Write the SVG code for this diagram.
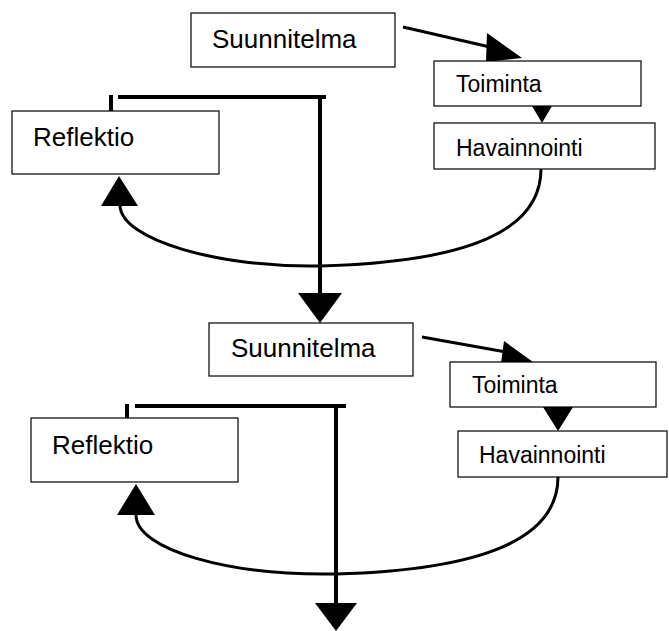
<svg xmlns="http://www.w3.org/2000/svg" width="669" height="631" viewBox="0 0 669 631">
<style>
.box{fill:#fff;stroke:#000;stroke-width:1.2}
.big{font-family:"Liberation Sans",Arial,sans-serif;font-size:26px;fill:#000}
.small{font-family:"Liberation Sans",Arial,sans-serif;font-size:23px;fill:#000}
.thick{fill:none;stroke:#000;stroke-width:4}
.curve{fill:none;stroke:#000;stroke-width:3}
.head{fill:#000;stroke:none}
</style>
<rect width="669" height="631" fill="#fff"/>
<g id="connectors">
  <path class="curve" d="M403,27 L490,47"/>
  <polygon class="head" points="487,33 522,58 486,62"/>
  <polygon class="head" points="532,106 552,106 542,123"/>
  <path class="curve" d="M541,169 C541,230 470,262 320,266 C220,268 120,240 120,205"/>
  <polygon class="head" points="101,206 138,206 119,176"/>
  <path class="thick" d="M111,95 L111,111"/>
  <path class="thick" d="M118,97 L326,97"/>
  <path class="thick" d="M320,97 L320,296"/>
  <polygon class="head" points="298,293 342,293 320,323"/>
  <path class="curve" d="M422,337 L506,352"/>
  <polygon class="head" points="504,341 533,362 501,363"/>
  <polygon class="head" points="543,407 573,407 558,431"/>
  <path class="curve" d="M558,477 C558,540 480,570 336,574 C230,576 136,550 136,515"/>
  <polygon class="head" points="117,515 155,515 136,484"/>
  <path class="thick" d="M127,404 L127,418"/>
  <path class="thick" d="M135,406 L346,406"/>
  <path class="thick" d="M336,406 L336,606"/>
  <polygon class="head" points="315,603 357,603 336,631"/>
</g>
<g id="suunnitelma1"><rect class="box" x="191" y="13" width="204" height="54"/><text class="big" x="212" y="48">Suunnitelma</text></g>
<g id="toiminta1"><rect class="box" x="434" y="61" width="207" height="45"/><text class="small" x="456" y="92">Toiminta</text></g>
<g id="havainnointi1"><rect class="box" x="434" y="123" width="221" height="46"/><text class="small" x="456" y="156">Havainnointi</text></g>
<g id="reflektio1"><rect class="box" x="12" y="111" width="207" height="63"/><text class="big" x="33" y="146">Reflektio</text></g>
<g id="suunnitelma2"><rect class="box" x="209" y="323" width="204" height="53"/><text class="big" x="231" y="357">Suunnitelma</text></g>
<g id="toiminta2"><rect class="box" x="450" y="362" width="206" height="45"/><text class="small" x="472" y="393">Toiminta</text></g>
<g id="havainnointi2"><rect class="box" x="458" y="431" width="209" height="46"/><text class="small" x="479" y="463">Havainnointi</text></g>
<g id="reflektio2"><rect class="box" x="31" y="418" width="207" height="64"/><text class="big" x="52" y="454">Reflektio</text></g>
</svg>
